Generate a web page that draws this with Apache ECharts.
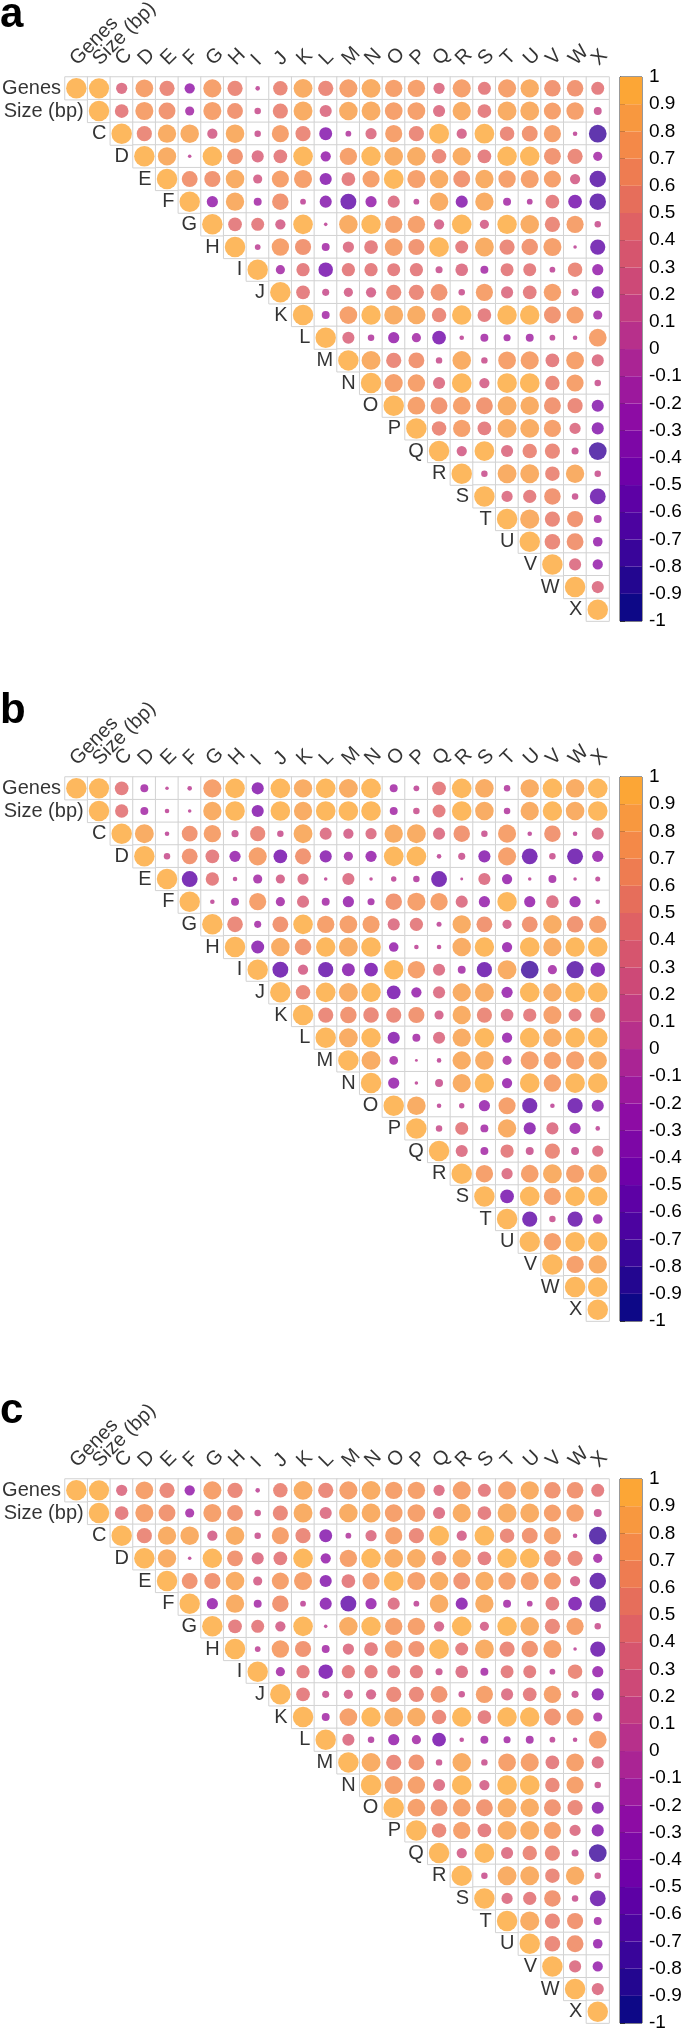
<!DOCTYPE html>
<html>
<head>
<meta charset="utf-8">
<title>Correlation plots a, b, c</title>
<script src="https://cdn.jsdelivr.net/npm/echarts@6/dist/echarts.min.js"></script>
<style>
	html, body { margin: 0; padding: 0; background: #fff; }
	#chart { width: 685px; height: 2032px; }
</style>
</head>
<body>
<div id="chart"></div>
<script>
	// variables, in plot order
	var labels = ['Genes', 'Size (bp)', 'C', 'D', 'E', 'F', 'G', 'H', 'I', 'J', 'K', 'L',
		'M', 'N', 'O', 'P', 'Q', 'R', 'S', 'T', 'U', 'V', 'W', 'X'];

	// upper triangle, each row starts at the diagonal
	var corrA = [
		[1, 0.97, 0.3, 0.75, 0.55, -0.25, 0.78, 0.55, 0.05, 0.5, 0.85, 0.55, 0.78, 0.85, 0.72, 0.72, 0.3, 0.78, 0.4, 0.78, 0.8, 0.65, 0.65, 0.4],
		[1, 0.45, 0.78, 0.68, -0.2, 0.78, 0.6, 0.1, 0.55, 0.85, 0.35, 0.82, 0.85, 0.75, 0.75, 0.35, 0.8, 0.45, 0.85, 0.85, 0.7, 0.72, 0.15],
		[1, 0.55, 0.8, 0.82, 0.25, 0.82, 0.1, 0.7, 0.55, -0.4, -0.08, 0.3, 0.7, 0.55, 0.95, 0.25, 0.93, 0.5, 0.6, 0.7, 0.05, -0.75],
		[1, 0.8, 0.03, 0.9, 0.6, 0.35, 0.45, 0.92, -0.25, 0.72, 0.9, 0.82, 0.82, 0.5, 0.8, 0.45, 0.9, 0.9, 0.68, 0.55, -0.2],
		[1, 0.6, 0.62, 0.82, 0.2, 0.7, 0.78, -0.35, 0.45, 0.7, 0.93, 0.78, 0.82, 0.68, 0.8, 0.72, 0.78, 0.7, 0.25, -0.65],
		[1, -0.3, 0.8, -0.15, 0.65, 0.08, -0.35, -0.6, -0.3, 0.35, 0.08, 0.82, -0.35, 0.8, -0.15, -0.08, 0.45, -0.45, -0.65],
		[1, 0.45, 0.4, 0.25, 0.92, 0.03, 0.82, 0.9, 0.72, 0.72, 0.25, 0.92, 0.2, 0.9, 0.82, 0.55, 0.7, 0.1],
		[1, 0.08, 0.72, 0.62, -0.15, 0.3, 0.45, 0.75, 0.62, 0.93, 0.4, 0.85, 0.55, 0.65, 0.78, 0.03, -0.55],
		[1, -0.2, 0.42, -0.5, 0.42, 0.42, 0.4, 0.42, 0.12, 0.38, -0.15, 0.4, 0.4, 0.08, 0.5, -0.3],
		[1, 0.45, 0.12, 0.2, 0.25, 0.55, 0.55, 0.68, 0.1, 0.7, 0.35, 0.45, 0.72, 0.12, -0.35],
		[1, -0.15, 0.75, 0.9, 0.85, 0.8, 0.5, 0.9, 0.45, 0.9, 0.9, 0.68, 0.7, -0.2],
		[1, 0.35, -0.1, -0.3, -0.2, -0.45, 0.05, -0.15, -0.12, -0.15, 0.08, 0.05, 0.75],
		[1, 0.85, 0.55, 0.6, 0.1, 0.82, 0.1, 0.75, 0.78, 0.45, 0.75, 0.35],
		[1, 0.78, 0.72, 0.35, 0.92, 0.25, 0.92, 0.93, 0.5, 0.7, 0.1],
		[1, 0.75, 0.68, 0.75, 0.68, 0.85, 0.82, 0.68, 0.55, -0.35],
		[1, 0.5, 0.72, 0.45, 0.85, 0.85, 0.7, 0.3, -0.35],
		[1, 0.25, 0.93, 0.35, 0.5, 0.55, 0.12, -0.75],
		[1, 0.1, 0.85, 0.85, 0.5, 0.8, 0.1],
		[1, 0.3, 0.42, 0.65, 0.1, -0.6],
		[1, 0.88, 0.55, 0.62, -0.15],
		[1, 0.58, 0.68, -0.22],
		[1, 0.35, -0.25],
		[1, 0.35],
		[1]
	];

	var corrB = [
		[1, 0.97, 0.45, -0.15, 0.03, 0.05, 0.78, 0.92, -0.35, 0.92, 0.8, 0.92, 0.85, 0.92, -0.15, 0.08, 0.45, 0.92, 0.82, -0.1, 0.8, 0.9, 0.82, 0.92],
		[1, 0.42, -0.15, 0.05, 0.03, 0.8, 0.92, -0.35, 0.92, 0.8, 0.92, 0.92, 0.92, -0.15, 0.1, 0.4, 0.92, 0.82, -0.1, 0.8, 0.9, 0.82, 0.92],
		[1, 0.85, 0.05, 0.6, 0.72, 0.12, 0.55, 0.1, 0.85, 0.35, 0.25, 0.3, 0.8, 0.85, 0.35, 0.65, 0.1, 0.78, 0.05, 0.65, 0.05, 0.35],
		[1, 0.1, 0.6, 0.45, -0.3, 0.78, -0.45, 0.62, -0.35, -0.2, -0.3, 0.92, 0.92, 0.05, 0.12, -0.35, 0.78, -0.6, 0.1, -0.6, -0.3],
		[1, -0.6, 0.42, 0.05, -0.2, 0.2, 0.3, 0.03, 0.35, 0.03, 0.07, -0.1, -0.6, 0.02, 0.35, -0.25, 0.03, -0.15, 0.03, 0.06],
		[1, 0.05, -0.15, 0.7, -0.2, 0.35, -0.15, -0.3, -0.12, 0.65, 0.78, 0.72, 0.35, -0.3, 0.9, -0.3, 0.38, -0.3, 0.05],
		[1, 0.58, -0.12, 0.6, 0.92, 0.72, 0.75, 0.7, 0.35, 0.42, 0.06, 0.8, 0.6, 0.2, 0.6, 0.82, 0.65, 0.72],
		[1, -0.4, 0.82, 0.65, 0.9, 0.85, 0.92, -0.22, 0.05, 0.05, 0.82, 0.9, -0.25, 0.92, 0.8, 0.9, 0.92],
		[1, -0.6, 0.25, -0.55, -0.4, -0.45, 0.9, 0.72, 0.35, -0.15, -0.55, 0.85, -0.75, -0.2, -0.7, -0.5],
		[1, 0.5, 0.92, 0.85, 0.9, -0.45, -0.25, 0.35, 0.8, 0.85, -0.3, 0.92, 0.8, 0.92, 0.92],
		[1, 0.55, 0.65, 0.58, 0.55, 0.62, 0.2, 0.8, 0.55, 0.38, 0.42, 0.78, 0.4, 0.55],
		[1, 0.85, 0.9, -0.35, -0.15, 0.35, 0.8, 0.9, -0.25, 0.92, 0.82, 0.92, 0.92],
		[1, 0.85, -0.18, 0.02, 0.05, 0.8, 0.82, -0.2, 0.78, 0.72, 0.78, 0.8],
		[1, -0.3, 0.03, 0.15, 0.8, 0.9, -0.25, 0.92, 0.72, 0.92, 0.92],
		[1, 0.82, 0.05, 0.07, -0.3, 0.7, -0.55, 0.05, -0.55, -0.35],
		[1, 0.1, 0.4, -0.15, 0.8, -0.35, 0.35, -0.3, 0.05],
		[1, 0.35, -0.15, 0.42, 0.15, 0.55, 0.15, 0.3],
		[1, 0.72, 0.3, 0.75, 0.85, 0.78, 0.82],
		[1, -0.45, 0.92, 0.7, 0.92, 0.9],
		[1, -0.55, 0.1, -0.55, -0.22],
		[1, 0.72, 0.92, 0.9],
		[1, 0.72, 0.8],
		[1, 0.92],
		[1]
	];

	// panel c reads the same as panel a, cell for cell
	var corrC = corrA;

	var panelNames = ['a', 'b', 'c'];
	var colorbarTicks = [-1, -0.9, -0.8, -0.7, -0.6, -0.5, -0.4, -0.3, -0.2, -0.1, 0,
		0.1, 0.2, 0.3, 0.4, 0.5, 0.6, 0.7, 0.8, 0.9, 1];

	var FONT = "'Liberation Sans', Arial, Helvetica, sans-serif";
	var GRID_LEFT = 65;
	var CELL = 22.67;
	var SIZE = CELL * labels.length;
	var MAX_D = 20.5;
	var panelTops = [77, 777, 1479];
	var letterY = [6, 702, 1402];

	// plasma, cut before the yellow end
	var plasmaStops = ['#0d0887', '#41049d', '#6a00a8', '#8f0da4', '#b12a90',
		'#cc4778', '#e16462', '#f2844b', '#fca636'];

	function hexToRgb(h) {
		return [parseInt(h.substr(1, 2), 16), parseInt(h.substr(3, 2), 16), parseInt(h.substr(5, 2), 16)];
	}

	function plasma(t) {
		var pos = t * (plasmaStops.length - 1);
		var i = Math.min(Math.floor(pos), plasmaStops.length - 2);
		var f = pos - i;
		var a = hexToRgb(plasmaStops[i]), b = hexToRgb(plasmaStops[i + 1]);
		var c = a.map(function(v, k) { return Math.round(v + (b[k] - v) * f); });
		return 'rgb(' + c.join(',') + ')';
	}

	var bins = [];
	for (var i = 0; i < colorbarTicks.length - 1; i++) {
		bins.push({
			lo: colorbarTicks[i],
			hi: colorbarTicks[i + 1],
			color: plasma(i / (colorbarTicks.length - 2))
		});
	}

	var chart = echarts.init(document.getElementById('chart'), null, { renderer: 'canvas' });

	var option = {
		backgroundColor: '#fff',
		animation: false,
		textStyle: { fontFamily: FONT },
		grid: [],
		xAxis: [],
		yAxis: [],
		series: [],
		graphic: [],
		visualMap: []
	};

	var circleSeries = [];

	[corrA, corrB, corrC].forEach(function(corr, k) {
		var top = panelTops[k];
		var g = 2 * k;      // matrix grid / axes
		var cb = 2 * k + 1; // colour legend grid / axes
		var cells = [];
		var circles = [];
		var diag = [];
		var heads = [];

		corr.forEach(function(row, i) {
			row.forEach(function(r, off) {
				var j = i + off;
				cells.push([j, i, 0]);
				circles.push([j, i, r]);
			});
			diag.push([i, i, labels[i]]);
			heads.push([i, 0, labels[i]]);
		});

		// correlation grid
		option.grid.push({
			left: GRID_LEFT, top: top, width: SIZE, height: SIZE,
			outerBoundsMode: 'none'
		});
		option.xAxis.push({
			type: 'category', gridIndex: g, data: labels, position: 'top', show: false
		});
		option.yAxis.push({
			type: 'category', gridIndex: g, data: labels, inverse: true, show: false
		});

		// colour legend
		option.grid.push({
			left: 620, top: top, width: 22, height: SIZE,
			show: true, borderColor: '#333', borderWidth: 1, backgroundColor: 'transparent',
			outerBoundsMode: 'none'
		});
		option.xAxis.push({ type: 'value', gridIndex: cb, min: 0, max: 1, show: false });
		option.yAxis.push({
			type: 'value', gridIndex: cb, min: -1, max: 1, interval: 0.1, position: 'right',
			axisLine: { show: true, lineStyle: { color: '#333', width: 1 } },
			axisTick: { show: true, length: 5, lineStyle: { color: '#333' } },
			splitLine: { show: false },
			axisLabel: {
				margin: 7, fontSize: 19, color: '#000', fontFamily: FONT,
				formatter: function(v) { return String(Math.round(v * 10) / 10); }
			}
		});

		option.series.push({
			type: 'heatmap', xAxisIndex: g, yAxisIndex: g, data: cells, silent: true,
			itemStyle: { color: '#fff', borderColor: '#d2d2d2', borderWidth: 1 }
		});

		circleSeries.push(option.series.length);
		option.series.push({
			type: 'scatter', xAxisIndex: g, yAxisIndex: g, data: circles, silent: true,
			symbol: 'circle',
			symbolSize: function(val) {
				return Math.max(1.5, MAX_D * Math.sqrt(Math.abs(val[2])));
			},
			z: 3
		});

		// row names sit left of the diagonal cell
		option.series.push({
			type: 'scatter', xAxisIndex: g, yAxisIndex: g, data: diag, silent: true,
			symbol: 'rect', symbolSize: CELL,
			itemStyle: { color: 'rgba(0,0,0,0)' },
			label: {
				show: true, position: 'left', distance: 4,
				fontSize: 20, color: '#000', fontFamily: FONT,
				formatter: function(p) { return p.data[2]; }
			},
			z: 4
		});

		// column names, slanted above the first row
		option.series.push({
			type: 'scatter', xAxisIndex: g, yAxisIndex: g, data: heads, silent: true,
			symbol: 'rect', symbolSize: CELL,
			itemStyle: { color: 'rgba(0,0,0,0)' },
			label: {
				show: true, position: [CELL / 2 - 3, -15], rotate: 45,
				align: 'left', verticalAlign: 'middle',
				fontSize: 20, color: '#000', fontFamily: FONT,
				formatter: function(p) { return p.data[2]; }
			},
			labelLayout: { hideOverlap: false },
			z: 4
		});

		option.series.push({
			type: 'custom', xAxisIndex: cb, yAxisIndex: cb, silent: true,
			data: bins.map(function(b) { return [b.lo, b.hi]; }),
			renderItem: function(params, api) {
				var p0 = api.coord([0, api.value(1)]);
				var p1 = api.coord([1, api.value(0)]);
				return {
					type: 'rect',
					shape: { x: p0[0], y: p0[1], width: p1[0] - p0[0], height: p1[1] - p0[1] },
					style: { fill: bins[params.dataIndex].color }
				};
			}
		});

		option.graphic.push({
			type: 'text', left: 0, top: letterY[k] - 12,
			style: { text: panelNames[k], font: 'bold 42px ' + FONT, fill: '#000' }
		});
	});

	option.visualMap.push({
		type: 'piecewise', show: false, dimension: 2, seriesIndex: circleSeries,
		pieces: bins.map(function(b, i) {
			return i === bins.length - 1 ?
				{ gte: b.lo, lte: b.hi, color: b.color } :
				{ gte: b.lo, lt: b.hi, color: b.color };
		})
	});

	chart.setOption(option);
</script>
</body>
</html>
